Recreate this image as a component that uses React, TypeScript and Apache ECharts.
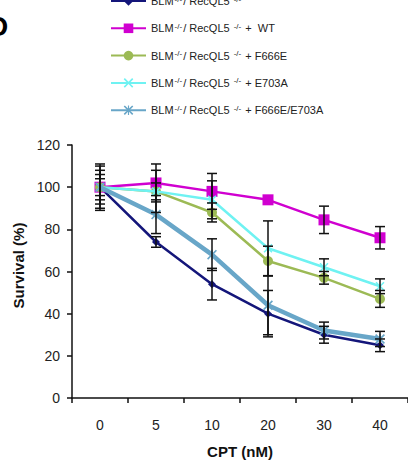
import React, { useEffect, useRef } from "react";
import * as echarts from "echarts";

const categories = ["0", "5", "10", "20", "30", "40"];
const yTicks = [0, 20, 40, 60, 80, 100, 120];

const seriesNames = [
  "BLM/RecQL5",
  "BLM/RecQL5 + WT",
  "BLM/RecQL5 + F666E",
  "BLM/RecQL5 + E703A",
  "BLM/RecQL5 + F666E/E703A",
];
const legendSuffix = ["", " +  WT", " + F666E", " + E703A", " + F666E/E703A"];

const navyValues = [100, 74, 54, 40, 30, 25];
const wtValues = [100, 102, 98, 94, 84.5, 76];
const f666eValues = [100, 98, 88, 65, 57, 47];
const e703aValues = [100, 98, 94, 71, 62, 53];
const doubleValues = [100, 87, 68, 44, 32, 28];

const navyErr = [11, 2.5, 7.5, 11, 4, 3];
const wtErr = [8, 9, 8.5, 0, 6.5, 5.3];
const f666eErr = [6, 10, 4.5, 7, 3, 4];
const e703aErr = [4, 4, 9, 13, 4, 3.5];
const doubleErr = [10, 9, 7.5, 14, 4, 3.6];

const colors = ["#14167a", "#d000d0", "#9cba55", "#6ff2f2", "#68a6c8"];

const X_PATH =
  "path://M0,1.2 L1.2,0 L5,3.8 L8.8,0 L10,1.2 L6.2,5 L10,8.8 L8.8,10 L5,6.2 L1.2,10 L0,8.8 L3.8,5 Z";
const STAR_PATH =
  "path://M0,1.2 L1.2,0 L5,3.8 L8.8,0 L10,1.2 L6.2,5 L10,8.8 L8.8,10 L5,6.2 L1.2,10 L0,8.8 L3.8,5 Z M4.4,0 L5.6,0 L5.6,10 L4.4,10 Z";

export default function App() {
  const ref = useRef<HTMLDivElement>(null);
  useEffect(() => {
    if (!ref.current) return;
    const chart = echarts.init(ref.current, null, { renderer: "svg" });
    const valueSets = [navyValues, wtValues, f666eValues, e703aValues, doubleValues];
    const errSets = [navyErr, wtErr, f666eErr, e703aErr, doubleErr];
    const symbols = ["diamond", "rect", "circle", X_PATH, STAR_PATH];
    const symbolSizes = [8, 11, 10, 9, 10];
    const widths = [2.5, 2.5, 2.5, 2.5, 4.5];

    const errData: number[][] = [];
    errSets.forEach((errs, s) => {
      errs.forEach((e, i) => {
        if (e > 0) errData.push([i, valueSets[s][i], e]);
      });
    });

    const lineSeries = seriesNames.map((name, s) => ({
      name,
      type: "line",
      data: valueSets[s],
      symbol: symbols[s],
      symbolSize: symbolSizes[s],
      showSymbol: true,
      lineStyle: { color: colors[s], width: widths[s] },
      itemStyle: { color: colors[s] },
      z: 2 + s,
    }));

    const option: any = {
      animation: false,
      textStyle: { fontFamily: "Liberation Sans, Arial, sans-serif" },
      grid: { left: 72, right: -6, top: 145, bottom: 62 },
      legend: {
        data: seriesNames,
        orient: "vertical",
        left: 105,
        top: -10,
        itemWidth: 35,
        itemHeight: 12,
        itemGap: 15.3,
        selectedMode: false,
        formatter: (name: string) => {
          const idx = seriesNames.indexOf(name);
          return `{t|BLM}{s|-/-}{t|/ RecQL5 }{s|-/-}{t|${legendSuffix[idx]}}`;
        },
        textStyle: {
          rich: {
            t: { fontSize: 11, color: "#222", lineHeight: 12, fontFamily: "Liberation Sans, Arial, sans-serif" },
            s: {
              fontSize: 8,
              color: "#222",
              lineHeight: 12,
              verticalAlign: "top",
              padding: [0, 1, 4, 1],
              fontFamily: "Liberation Sans, Arial, sans-serif",
            },
          },
        },
      },
      xAxis: {
        type: "category",
        data: categories,
        boundaryGap: true,
        name: "CPT (nM)",
        nameLocation: "middle",
        nameGap: 46,
        nameTextStyle: { fontSize: 15, fontWeight: "bold", color: "#111" },
        axisLine: { lineStyle: { color: "#111", width: 1.5 } },
        axisTick: { show: true, length: 5, inside: false, lineStyle: { color: "#111", width: 1.5 } },
        axisLabel: { fontSize: 14, color: "#222", margin: 20 },
        splitLine: { show: false },
      },
      yAxis: {
        type: "value",
        min: yTicks[0],
        max: yTicks[yTicks.length - 1],
        interval: 20,
        name: "Survival (%)",
        nameLocation: "middle",
        nameGap: 46,
        nameTextStyle: { fontSize: 15, fontWeight: "bold", color: "#111", padding: [0, 0, 0, 12] },
        axisLine: { show: true, lineStyle: { color: "#111", width: 1.5 } },
        axisTick: { show: true, length: 5, lineStyle: { color: "#111", width: 1.5 } },
        axisLabel: { fontSize: 14, color: "#222", margin: 12 },
        splitLine: { show: false },
      },
      graphic: [
        {
          type: "text",
          left: -12,
          top: 12,
          style: { text: "D", fontSize: 28, fontWeight: "bold", fill: "#000", fontFamily: "Liberation Sans, Arial, sans-serif" },
        },
      ],
      series: [
        ...lineSeries,
        {
          name: "errors",
          type: "custom",
          data: errData,
          encode: { x: 0, y: 1 },
          z: 10,
          renderItem: (params: any, api: any) => {
            const x = api.value(0);
            const y = api.value(1);
            const e = api.value(2);
            const hi = api.coord([x, y + e]);
            const lo = api.coord([x, y - e]);
            const w = 5;
            const st = { stroke: "#111", lineWidth: 1.5 };
            return {
              type: "group",
              children: [
                { type: "line", shape: { x1: hi[0], y1: hi[1], x2: lo[0], y2: lo[1] }, style: st },
                { type: "line", shape: { x1: hi[0] - w, y1: hi[1], x2: hi[0] + w, y2: hi[1] }, style: st },
                { type: "line", shape: { x1: lo[0] - w, y1: lo[1], x2: lo[0] + w, y2: lo[1] }, style: st },
              ],
            };
          },
        },
      ],
    };
    chart.setOption(option);
    return () => chart.dispose();
  }, []);
  return (
    <div
      ref={ref}
      style={{ position: "fixed", left: 0, top: 0, width: 408, height: 464, background: "#fff" }}
    />
  );
}
